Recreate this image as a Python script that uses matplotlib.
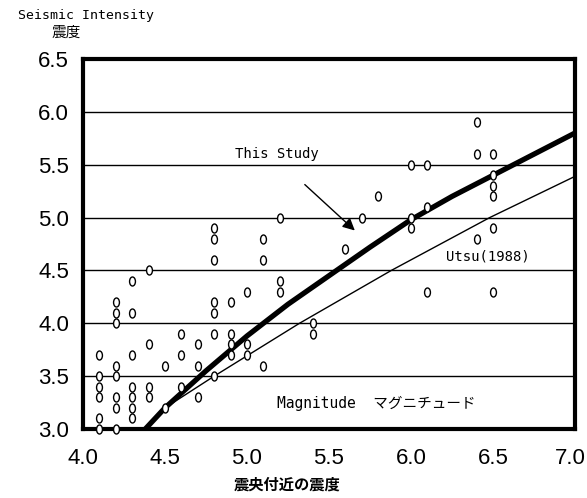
import numpy as np
import matplotlib.pyplot as plt
from matplotlib.path import Path
from matplotlib.transforms import Affine2D, ScaledTranslation
from matplotlib import font_manager

# Observed data: magnitude vs seismic intensity near epicentre
obs_m = [4.1] * 6 + [4.2] * 8 + [4.3] * 7 + [4.4] * 4 + [4.5] * 2 + [4.6] * 3 + [4.7] * 3 \
    + [4.8] * 7 + [4.9] * 4 + [5.0] * 3 + [5.1] * 3 + [5.2] * 3 + [5.4] * 2 + [5.6] + [5.7] + [5.8] \
    + [6.0] * 3 + [6.1] * 3 + [6.4] * 3 + [6.5] * 6
obs_i = [3.0, 3.1, 3.3, 3.4, 3.5, 3.7,
         3.0, 3.2, 3.3, 3.5, 3.6, 4.0, 4.1, 4.2,
         3.1, 3.2, 3.3, 3.4, 3.7, 4.1, 4.4,
         3.3, 3.4, 3.8, 4.5,
         3.2, 3.6,
         3.4, 3.7, 3.9,
         3.3, 3.6, 3.8,
         3.5, 3.9, 4.1, 4.2, 4.6, 4.8, 4.9,
         3.7, 3.8, 3.9, 4.2,
         3.7, 3.8, 4.3,
         3.6, 4.6, 4.8,
         4.3, 4.4, 5.0,
         3.9, 4.0,
         4.7,
         5.0,
         5.2,
         4.9, 5.0, 5.5,
         4.3, 5.1, 5.5,
         4.8, 5.6, 5.9,
         4.3, 4.9, 5.2, 5.3, 5.4, 5.6]

# Curve: This Study
study_m = [4.38, 4.5, 4.75, 5.0, 5.25, 5.5, 5.75, 6.0, 6.25, 6.5, 6.75, 7.0]
study_i = [3.0, 3.2, 3.55, 3.88, 4.18, 4.45, 4.72, 4.98, 5.2, 5.4, 5.6, 5.8]

# Curve: Utsu (1988)
utsu_m = [4.5, 4.8, 5.32, 5.88, 6.48, 7.0]
utsu_i = [3.2, 3.5, 4.0, 4.5, 5.0, 5.39]

xticks = [4.0, 4.5, 5.0, 5.5, 6.0, 6.5, 7.0]
yticks = [3.0, 3.5, 4.0, 4.5, 5.0, 5.5, 6.0, 6.5]

jp = ['Noto Sans CJK JP', 'DejaVu Sans']
mono = ['DejaVu Sans Mono', 'Noto Sans CJK JP']
names = {f.name for f in font_manager.fontManager.ttflist}
num_font = 'Liberation Sans Narrow' if 'Liberation Sans Narrow' in names else 'Liberation Sans'

fig = plt.figure(figsize=(5.87, 4.98), dpi=100)
ax = fig.add_axes([83 / 587, 1 - 429 / 498, 492 / 587, 370 / 498])

# horizontal grid lines
for y in yticks[1:-1]:
    ax.axhline(y, color='black', lw=1.0, zorder=1)

# data points drawn as tall open ellipses
ell = Path.unit_circle().transformed(Affine2D().scale(0.65, 1.0))
ax.plot(obs_m, obs_i, linestyle='none', marker=ell, markersize=6.5,
        markerfacecolor='white', markeredgecolor='black', markeredgewidth=1.0,
        zorder=4, clip_on=False)

ax.plot(study_m, study_i, color='black', lw=3.8, zorder=3, solid_capstyle='butt')
ax.plot(utsu_m, utsu_i, color='black', lw=1.0, zorder=3)

ax.set_xlim(4.0, 7.0)
ax.set_ylim(3.0, 6.5)
ax.set_xticks(xticks)
ax.set_yticks(yticks)
ax.set_xticklabels([f'{v:.1f}' for v in xticks], fontsize=16, family=num_font)
ax.set_yticklabels([f'{v:.1f}' for v in yticks], fontsize=16, family=num_font)
ax.tick_params(axis='x', length=0, pad=14)
ax.tick_params(axis='y', length=0, pad=10)
for s in ax.spines.values():
    s.set_linewidth(3.0)

# the last x label sits a little inside the frame in the original
last = ax.get_xticklabels()[-1]
last.set_transform(last.get_transform() + ScaledTranslation(-5 / 100, 0, fig.dpi_scale_trans))

ax.text(5.18, 5.6, 'This Study', fontsize=10, family=mono, ha='center', va='center')
ax.annotate('', xy=(5.67, 4.86), xytext=(5.34, 5.33),
            arrowprops=dict(arrowstyle='-|>', lw=1.0, color='black', mutation_scale=18))
ax.text(6.47, 4.63, 'Utsu(1988)', fontsize=10, family=mono, ha='center', va='center')
ax.text(5.18, 3.24, 'Magnitude  マグニチュード', fontsize=10.5, family=mono, ha='left', va='center')

fig.text(18 / 587, 1 - 16 / 498, 'Seismic Intensity', fontsize=9.5, family=mono, ha='left', va='center')
fig.text(66 / 587, 1 - 33 / 498, '震度', fontsize=10.5, family=jp, ha='center', va='center')
fig.text(287 / 587, 1 - 485 / 498, '震央付近の震度', fontsize=11, family=jp, weight='bold',
         ha='center', va='center')

fig.savefig('out.png', dpi=100)
